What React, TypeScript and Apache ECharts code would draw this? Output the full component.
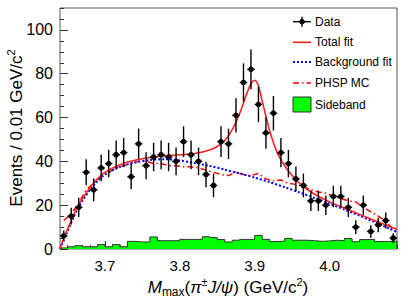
import React, { useEffect, useRef } from "react";
import * as echarts from "echarts";

// Binning of the histogram (GeV/c^2)
const BIN_START = 3.64;
const BIN_WIDTH = 0.01;
const N_BINS = 45;

// Data: events per 0.01 GeV/c^2
const dataCounts = [6, 15, 19, 35, 27, 37, 39, 43, 44, 33, 48, 38, 42, 43, 42, 40, 49, 43, 40, 34, 29, 49, 48, 61, 76, 82, 66, 53, 62, 44, 39, 32, 29, 22, 22, 20, 24, 24, 19, 10, 20, 8, 11, 13, 5];
// Sideband histogram
const sideband = [0.5, 1, 1.5, 1, 1, 2, 1, 2, 1, 3.5, 3.2, 3.2, 5.5, 3.8, 3.8, 3.8, 4.4, 4.4, 4.4, 5.6, 5.2, 4.3, 3.2, 4, 4.4, 4.4, 6.2, 4.4, 3.4, 3.6, 4.8, 4, 4, 3.8, 3.5, 3.7, 4, 3.8, 4.8, 3.3, 4.3, 4.4, 3.4, 3.4, 3.6];
// PHSP MC (per bin)
const phspMC = [13, 16, 21, 27, 30, 33, 35, 37, 38, 39, 40, 40, 39, 39, 38, 38, 37.5, 37.5, 37, 36, 35, 34, 33.5, 35, 34, 33.5, 34.5, 32, 31, 31.5, 30, 29.5, 28.5, 27, 26, 25.5, 24, 23, 22, 21.5, 19, 17, 15, 12.5, 9];
// Total fit curve
const totalMass = [3.64, 3.645, 3.65, 3.655, 3.66, 3.67, 3.68, 3.69, 3.7, 3.72, 3.74, 3.76, 3.78, 3.8, 3.82, 3.84, 3.85, 3.86, 3.87, 3.88, 3.89, 3.895, 3.9, 3.905, 3.91, 3.92, 3.93, 3.94, 3.95, 3.96, 3.97, 3.98, 4.0, 4.02, 4.04, 4.06, 4.08, 4.09];
const totalFit = [0, 5, 9, 13, 17, 23, 28, 32, 35, 38.5, 40.5, 41.8, 42.5, 43, 43.6, 45.2, 46.8, 49.5, 54.5, 62, 71.5, 75.5, 77, 74.5, 67.5, 54, 44, 38, 33.5, 30, 27.2, 25, 21.5, 18.6, 15.8, 13, 10.3, 9];
// Background fit curve
const bkgMass = [3.64, 3.645, 3.65, 3.655, 3.66, 3.67, 3.68, 3.69, 3.7, 3.72, 3.74, 3.76, 3.78, 3.8, 3.82, 3.84, 3.86, 3.88, 3.9, 3.92, 3.94, 3.96, 3.98, 4.0, 4.02, 4.04, 4.06, 4.08, 4.09];
const bkgFit = [0, 4, 8, 12, 16, 22, 27, 31, 34, 37.5, 39.5, 40.6, 41, 40.4, 39.2, 37.9, 36.2, 34.5, 32.6, 30.5, 28.2, 25.8, 23.3, 20.7, 18, 15.2, 12.3, 9.3, 7.8];

const xTickLabels = [3.7, 3.8, 3.9, 4.0];
const yTickLabels = [0, 20, 40, 60, 80, 100];
const X_MIN = 3.64;
const X_MAX = 4.09;
const Y_MAX = 110;

const FONT = "'Liberation Sans', Arial, Helvetica, sans-serif";

export default function App() {
  const ref = useRef<HTMLDivElement>(null);
  useEffect(() => {
    if (!ref.current) return;
    const chart = echarts.init(ref.current, undefined, { renderer: "svg" });

    const centers: number[] = [];
    for (let i = 0; i < N_BINS; i++) centers.push(+(BIN_START + BIN_WIDTH * (i + 0.5)).toFixed(4));
    const xMinor: number[] = [];
    for (let i = 0; i <= N_BINS; i++) xMinor.push(+(BIN_START + BIN_WIDTH * i).toFixed(4));
    const yMinor: number[] = [];
    for (let v = 0; v <= Y_MAX; v += 5) yMinor.push(v);

    const sideSteps: number[][] = [[BIN_START, 0]];
    sideband.forEach((v, i) => {
      const lo = +(BIN_START + BIN_WIDTH * i).toFixed(4);
      const hi = +(BIN_START + BIN_WIDTH * (i + 1)).toFixed(4);
      sideSteps.push([lo, v], [hi, v]);
    });
    sideSteps.push([+(BIN_START + BIN_WIDTH * N_BINS).toFixed(4), 0]);

    const lx1 = 293, lx2 = 311, tx = 315;
    const rowY = [21.7, 42.3, 62, 83, 104.5];
    const legendText = ["Data", "Total fit", "Background fit", "PHSP MC", "Sideband"];

    const option: any = {
      animation: false,
      grid: { left: 60, right: 18, top: 8, bottom: 56, show: true, borderColor: "#555", borderWidth: 1, backgroundColor: "transparent" },
      xAxis: [
        {
          type: "value", min: X_MIN, max: X_MAX,
          axisLine: { show: false }, splitLine: { show: false },
          axisTick: { show: true, inside: true, length: 8, customValues: xTickLabels, lineStyle: { color: "#333", width: 1 } },
          axisLabel: { show: true, customValues: xTickLabels, formatter: (v: number) => v.toFixed(1), fontSize: 15, fontFamily: FONT, color: "#000", margin: 9 },
        },
        {
          type: "value", min: X_MIN, max: X_MAX, position: "bottom",
          axisLine: { show: false }, splitLine: { show: false }, axisLabel: { show: false },
          axisTick: { show: true, inside: true, length: 4, customValues: xMinor, lineStyle: { color: "#333", width: 1 } },
        },
      ],
      yAxis: [
        {
          type: "value", min: 0, max: Y_MAX,
          axisLine: { show: false }, splitLine: { show: false },
          axisTick: { show: true, inside: true, length: 8, customValues: yTickLabels, lineStyle: { color: "#333", width: 1 } },
          axisLabel: { show: true, customValues: yTickLabels, fontSize: 16, fontFamily: FONT, color: "#000", margin: 7 },
        },
        {
          type: "value", min: 0, max: Y_MAX, position: "left",
          axisLine: { show: false }, splitLine: { show: false }, axisLabel: { show: false },
          axisTick: { show: true, inside: true, length: 4, customValues: yMinor, lineStyle: { color: "#333", width: 1 } },
        },
      ],
      series: [
        {
          type: "line", name: "Sideband", data: sideSteps, symbol: "none", xAxisIndex: 0, yAxisIndex: 0,
          lineStyle: { color: "#333", width: 1 },
          areaStyle: { color: "#00ff00", opacity: 1, origin: "start" },
          z: 1,
        },
        {
          type: "line", name: "PHSP MC", data: centers.map((c, i) => [c, phspMC[i]]), symbol: "none",
          lineStyle: { color: "#ff0000", width: 1.5, type: [6, 3, 1.5, 3] }, z: 2,
        },
        {
          type: "line", name: "Background fit", data: bkgMass.map((m, i) => [m, bkgFit[i]]), symbol: "none", smooth: 0.3,
          lineStyle: { color: "#0000ff", width: 2, type: [2, 2] }, z: 3,
        },
        {
          type: "line", name: "Total fit", data: totalMass.map((m, i) => [m, totalFit[i]]), symbol: "none", smooth: 0.3,
          lineStyle: { color: "#ff2020", width: 1.6 }, z: 4,
        },
        {
          type: "custom", name: "Data", z: 5,
          data: centers.map((c, i) => [c, dataCounts[i], Math.sqrt(dataCounts[i])]),
          encode: { x: 0, y: 1 },
          renderItem: (params: any, api: any) => {
            const x = api.value(0), y = api.value(1), e = api.value(2);
            const pl = api.coord([x - BIN_WIDTH / 2, y]);
            const pr = api.coord([x + BIN_WIDTH / 2, y]);
            const pt = api.coord([x, y + e]);
            const pb = api.coord([x, Math.max(0, y - e)]);
            const c = api.coord([x, y]);
            const st = { stroke: "#000", lineWidth: 1.4 };
            return {
              type: "group",
              children: [
                { type: "line", shape: { x1: pl[0], y1: pl[1], x2: pr[0], y2: pr[1] }, style: st },
                { type: "line", shape: { x1: pt[0], y1: pt[1], x2: pb[0], y2: pb[1] }, style: st },
                { type: "circle", shape: { cx: c[0], cy: c[1], r: 2.8 }, style: { fill: "#000" } },
              ],
            };
          },
        },
      ],
      graphic: [
        // y axis title
        {
          type: "text", x: 16, y: 128, rotation: Math.PI / 2,
          style: {
            text: "{n|Events / 0.01 GeV/c}{p|2}",
            align: "center", verticalAlign: "middle", fill: "#000",
            rich: {
              n: { fontSize: 17, fontFamily: FONT, lineHeight: 22, fill: "#000" },
              p: { fontSize: 11, fontFamily: FONT, lineHeight: 12, verticalAlign: "top", fill: "#000" },
            },
          },
        },
        // x axis title
        {
          type: "text", x: 228, y: 287,
          style: {
            text: "{i|M}{s|max}{n|(}{i|π}{p|±}{i|J/ψ}{n|) (GeV/c}{p|2}{n|)}",
            align: "center", verticalAlign: "middle", fill: "#000",
            rich: {
              n: { fontSize: 17, fontFamily: FONT, lineHeight: 22, fill: "#000" },
              i: { fontSize: 17, fontFamily: FONT, fontStyle: "italic", lineHeight: 22, fill: "#000" },
              s: { fontSize: 12, fontFamily: FONT, lineHeight: 12, verticalAlign: "bottom", fill: "#000" },
              p: { fontSize: 11, fontFamily: FONT, lineHeight: 12, verticalAlign: "top", fill: "#000" },
            },
          },
        },
        // legend symbols
        { type: "line", shape: { x1: lx1, y1: rowY[0], x2: lx2, y2: rowY[0] }, style: { stroke: "#000", lineWidth: 1.4 } },
        { type: "line", shape: { x1: (lx1 + lx2) / 2, y1: rowY[0] - 5, x2: (lx1 + lx2) / 2, y2: rowY[0] + 5 }, style: { stroke: "#000", lineWidth: 1.4 } },
        { type: "circle", shape: { cx: (lx1 + lx2) / 2, cy: rowY[0], r: 2.8 }, style: { fill: "#000" } },
        { type: "line", shape: { x1: lx1, y1: rowY[1], x2: lx2, y2: rowY[1] }, style: { stroke: "#ff2020", lineWidth: 1.6 } },
        { type: "line", shape: { x1: lx1, y1: rowY[2], x2: lx2, y2: rowY[2] }, style: { stroke: "#0000ff", lineWidth: 2, lineDash: [2, 2] } },
        { type: "line", shape: { x1: lx1, y1: rowY[3], x2: lx2, y2: rowY[3] }, style: { stroke: "#ff0000", lineWidth: 1.5, lineDash: [6, 3, 1.5, 3] } },
        { type: "rect", shape: { x: lx1, y: rowY[4] - 7.5, width: lx2 - lx1, height: 15 }, style: { fill: "#00ff00", stroke: "#333", lineWidth: 1 } },
        ...legendText.map((t, i) => ({
          type: "text", x: tx, y: rowY[i],
          style: { text: t, fontSize: 12, fontFamily: FONT, fill: "#000", align: "left", verticalAlign: "middle" },
        })),
      ],
    };
    chart.setOption(option);
    return () => chart.dispose();
  }, []);
  return <div ref={ref} style={{ position: "absolute", left: 0, top: 0, width: 415, height: 305, background: "#fff" }} />;
}
